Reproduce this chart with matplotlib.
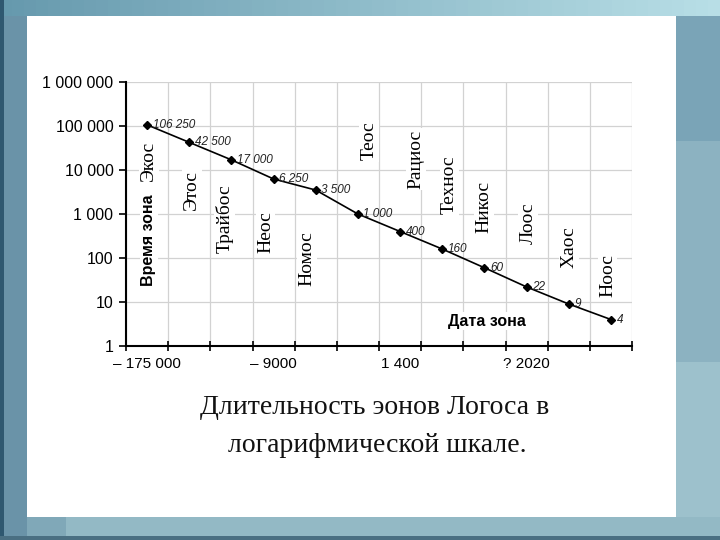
import numpy as np
import matplotlib
matplotlib.use('Agg')
import matplotlib.pyplot as plt
from matplotlib.patches import Rectangle
from matplotlib.ticker import FixedLocator, FuncFormatter

# data
eons = ['Экос', 'Этос', 'Трайбос', 'Неос', 'Номос', 'Теос',
        'Рациос', 'Технос', 'Никос', 'Лоос', 'Хаос', 'Ноос']
durations = [106250, 42500, 17000, 6250, 3500, 1000, 400, 160, 60, 22, 9, 4]
duration_labels = ['106 250', '42 500', '17 000', '6 250', '3 500', '1 000',
                   '400', '160', '60', '22', '9', '4']
date_labels = ['– 175 000', '– 9000', '1 400', '? 2020']
date_label_slots = [0, 3, 6, 9]

# layout of the vertical eon names (x in slot units, y as log10)
eon_label_x = [0.54, 1.56, 2.34, 3.31, 4.30, 5.77, 6.87, 7.67, 8.49, 9.54, 10.50, 11.42]
eon_label_logy = [4.20, 3.55, 2.90, 2.59, 1.99, 4.66, 4.25, 3.66, 3.15, 2.78, 2.24, 1.61]

sans = 'Liberation Sans'
serif = 'Liberation Serif'

fig = plt.figure(figsize=(7.2, 5.4), dpi=100)
fig.patch.set_facecolor('#7ea6b8')

W, H = 720.0, 540.0
def frect(x0, y0, x1, y1, color, z=0):
    # rectangle given in pixel coords from the top-left corner
    fig.patches.append(Rectangle((x0 / W, 1 - y1 / H), (x1 - x0) / W, (y1 - y0) / H,
                                 transform=fig.transFigure, facecolor=color,
                                 edgecolor='none', zorder=z))

# slide background
grad = np.linspace(0, 1, 60)
c0 = np.array([0.40, 0.60, 0.68])
c1 = np.array([0.72, 0.87, 0.90])
for i in range(60):
    frect(i * 12, 0, i * 12 + 13, 16, tuple(c0 + (c1 - c0) * grad[i]))
frect(0, 16, 27, 540, '#6a93a8')
frect(0, 0, 4, 540, '#2f5870')
frect(676, 16, 720, 141, '#7aa4b7')
frect(676, 141, 720, 362, '#8cb2c1')
frect(676, 362, 720, 540, '#9dc1cc')
frect(27, 517, 720, 540, '#93b9c5')
frect(27, 517, 66, 540, '#80a8b8')
frect(0, 536, 720, 540, '#4a6f82')
frect(27, 16, 676, 517, 'white', z=1)

ax = fig.add_axes([126 / W, 1 - 346 / H, (632 - 126) / W, (346 - 82) / H])
ax.set_zorder(2)
ax.set_facecolor('none')

xs = np.arange(len(durations)) + 0.5
ax.plot(xs, durations, color='black', lw=1.2, marker='D', ms=4, zorder=3)
for x, v, lab in zip(xs, durations, duration_labels):
    ax.annotate(lab, (x, v), xytext=(4, 0), textcoords='offset points',
                ha='left', va='center', fontsize=8.5, style='italic',
                family=sans, color='#222222', zorder=4)

ax.set_yscale('log')
ax.set_ylim(1, 1e6)
ax.set_xlim(0, 12)

ax.yaxis.set_major_locator(FixedLocator([10 ** k for k in range(7)]))
ax.yaxis.set_minor_locator(FixedLocator([]))
ax.yaxis.set_major_formatter(FuncFormatter(lambda v, p: f'{int(round(v)):,}'.replace(',', ' ')))

ax.set_xticks(np.arange(13))
ax.set_xticklabels([])
ax.set_xticks([s + 0.5 for s in date_label_slots], minor=True)
ax.set_xticklabels(date_labels, minor=True)
ax.tick_params(axis='x', which='minor', length=0, pad=8, labelsize=11)
ax.tick_params(axis='x', which='major', direction='inout', length=7, width=1.2)
ax.tick_params(axis='y', direction='out', length=5, width=1.2, labelsize=11.5, pad=4)
for t in ax.get_xticklabels(minor=True) + ax.get_yticklabels():
    t.set_family(sans)

ax.grid(True, which='major', color='#d2d2d2', lw=0.9)
for s in ['top', 'right']:
    ax.spines[s].set_visible(False)
for s in ['left', 'bottom']:
    ax.spines[s].set_linewidth(1.5)
ax.set_axisbelow(True)

for name, x, ly in zip(eons, eon_label_x, eon_label_logy):
    ax.text(x, 10 ** ly, name, rotation=90, ha='center', va='center',
            fontsize=14, family=serif, zorder=2,
            bbox=dict(facecolor='white', edgecolor='none', pad=1))

ax.text(0.54, 10 ** 2.41, 'Время зона', rotation=90, ha='center', va='center',
        fontsize=11.5, fontweight='bold', family=sans, zorder=2,
        bbox=dict(facecolor='white', edgecolor='none', pad=1))
ax.text(8.55, 10 ** 0.56, 'Дата зона', ha='center', va='center',
        fontsize=11.5, fontweight='bold', family=sans, zorder=2,
        bbox=dict(facecolor='white', edgecolor='none', pad=1))

fig.text(375 / W, 1 - 407 / H, 'Длительность эонов Логоса в', ha='center', va='center',
         fontsize=20, family=serif, color='#111111', zorder=3)
fig.text(377 / W, 1 - 445 / H, 'логарифмической шкале.', ha='center', va='center',
         fontsize=20, family=serif, color='#111111', zorder=3)

fig.savefig('out.png', dpi=100, facecolor=fig.get_facecolor())
